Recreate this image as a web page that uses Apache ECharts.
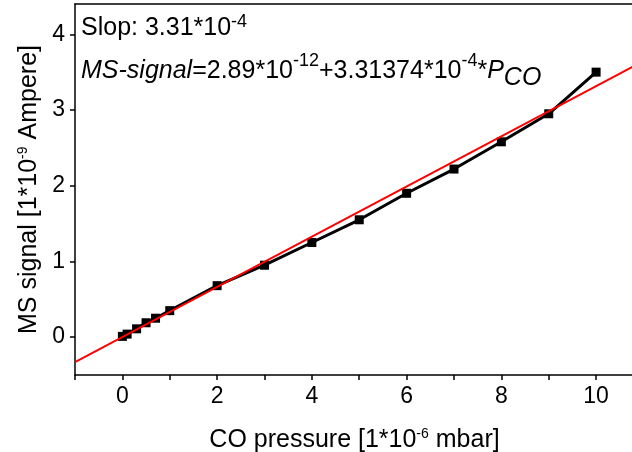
<!DOCTYPE html>
<html>
<head>
<meta charset="utf-8">
<script src="https://cdn.jsdelivr.net/npm/echarts@6/dist/echarts.min.js"></script>
<style>
  html, body { margin: 0; padding: 0; background: #fff; }
  #chart { width: 632px; height: 452px; }
</style>
</head>
<body>
<div id="chart"></div>
<script>
// CO pressure [1e-6 mbar] vs MS signal [1e-9 A]
var pressure = [0, 0.1, 0.3, 0.5, 0.7, 1, 2, 3, 4, 5, 6, 7, 8, 9, 10];
var signal = [0.01, 0.04, 0.11, 0.19, 0.25, 0.35, 0.68, 0.95, 1.25, 1.55, 1.90, 2.22, 2.58, 2.95, 3.50];

// linear fit from the annotation, in plotted units
var fitIntercept = 0.00289;
var fitSlope = 0.331374;
var fitRange = [-1, 10.8];

var xLabels = [0, 2, 4, 6, 8, 10];
var yLabels = [0, 1, 2, 3, 4];

var font = 'Liberation Sans, Arial, sans-serif';

var measured = pressure.map(function (p, i) {
  return [p, signal[i]];
});
var fitLine = fitRange.map(function (p) {
  return [p, fitIntercept + fitSlope * p];
});

var titleRich = {
  t: {fontSize: 25, fontFamily: font, color: '#000'},
  s: {fontSize: 14, fontFamily: font, color: '#000', verticalAlign: 'top', padding: [0, 0, 12, 0]}
};

var chart = echarts.init(document.getElementById('chart'));

chart.setOption({
  animation: false,
  backgroundColor: '#fff',
  grid: {
    left: 75,
    top: 4,
    right: -2,
    bottom: 77,
    outerBoundsMode: 'none',
    show: false
  },
  xAxis: [{
    type: 'value',
    min: -1,
    max: 10.8,
    interval: 1,
    position: 'bottom',
    name: '{t|CO pressure [1*10}{s|-6}{t| mbar]}',
    nameLocation: 'middle',
    nameGap: 52,
    nameTextStyle: {rich: titleRich},
    axisLine: {show: true, onZero: false, lineStyle: {color: '#000', width: 1.5}},
    axisTick: {show: true, inside: false, length: 5, lineStyle: {color: '#000', width: 1.5}},
    axisLabel: {
      showMaxLabel: false,
      fontSize: 23,
      fontFamily: font,
      color: '#000',
      margin: 10,
      formatter: function (v) {
        return xLabels.indexOf(v) >= 0 ? String(v) : '';
      }
    },
    splitLine: {show: false}
  }, {
    // top frame line only
    type: 'value',
    min: -1,
    max: 10.8,
    position: 'top',
    axisLine: {show: true, onZero: false, lineStyle: {color: '#000', width: 1.5}},
    axisTick: {show: false},
    axisLabel: {show: false},
    splitLine: {show: false}
  }],
  yAxis: {
    type: 'value',
    min: -0.5,
    max: 4.4,
    name: '{t|MS signal [1*10}{s|-9}{t| Ampere]}',
    nameLocation: 'middle',
    nameGap: 32,
    nameRotate: 90,
    nameTextStyle: {rich: titleRich},
    axisLine: {show: true, onZero: false, lineStyle: {color: '#000', width: 1.5}},
    axisTick: {show: true, length: 5, customValues: yLabels, lineStyle: {color: '#000', width: 1.5}},
    axisLabel: {customValues: yLabels, fontSize: 23, fontFamily: font, color: '#000', margin: 10},
    splitLine: {show: false}
  },
  series: [{
    name: 'fit',
    type: 'line',
    data: fitLine,
    symbol: 'none',
    clip: true,
    lineStyle: {color: '#ff0000', width: 2},
    z: 3
  }, {
    name: 'MS signal',
    type: 'line',
    data: measured,
    symbol: 'rect',
    symbolSize: 9,
    itemStyle: {color: '#000'},
    lineStyle: {color: '#000', width: 3},
    z: 2
  }],
  graphic: [{
    type: 'text',
    left: 81,
    top: 13,
    style: {
      text: '{t|Slop: 3.31*10}{s|-4}',
      rich: {
        t: {fontSize: 25, fontFamily: font, fill: '#000'},
        s: {fontSize: 18, fontFamily: font, fill: '#000', verticalAlign: 'top', padding: [0, 0, 12, 0]}
      }
    }
  }, {
    type: 'text',
    left: 81,
    top: 52,
    style: {
      text: '{i|MS-signal}{t|=2.89*10}{s|-12}{t|+3.31374*10}{s|-4}{t|*}{i|P}{u|CO}',
      rich: {
        t: {fontSize: 25, fontFamily: font, fill: '#000'},
        i: {fontSize: 25, fontFamily: font, fontStyle: 'italic', fill: '#000'},
        s: {fontSize: 18, fontFamily: font, fill: '#000', verticalAlign: 'top', padding: [0, 0, 12, 0]},
        u: {fontSize: 25, fontFamily: font, fontStyle: 'italic', fill: '#000', verticalAlign: 'bottom', padding: [14, 0, 0, 0]}
      }
    }
  }]
});
</script>
</body>
</html>
